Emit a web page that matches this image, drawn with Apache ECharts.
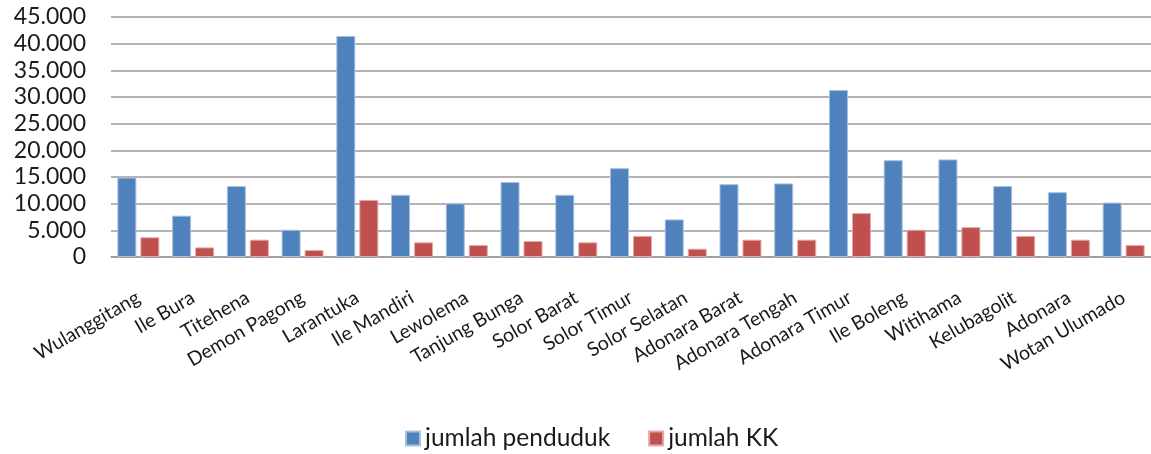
<!DOCTYPE html>
<html>
<head>
<meta charset="utf-8">
<script src="https://cdn.jsdelivr.net/npm/echarts@6/dist/echarts.min.js"></script>
<style>
html,body{margin:0;padding:0;background:#fff;}
#chart{width:1151px;height:454px;}
</style>
</head>
<body>
<div id="chart"></div>
<script>
const categories = ["Wulanggitang","Ile Bura","Titehena","Demon Pagong","Larantuka","Ile Mandiri","Lewolema","Tanjung Bunga","Solor Barat","Solor Timur","Solor Selatan","Adonara Barat","Adonara Tengah","Adonara Timur","Ile Boleng","Witihama","Kelubagolit","Adonara","Wotan Ulumado"];
const jumlahPenduduk = [14900,7750,13300,5100,41450,11650,10050,14050,11650,16650,7050,13650,13800,31300,18150,18300,13300,12150,10200];
const jumlahKK = [3700,1800,3250,1300,10700,2750,2250,3000,2750,3950,1550,3250,3250,8250,5100,5600,3950,3250,2250];
const seriesNames = ["jumlah penduduk","jumlah KK"];
const yTicks = {min:0, max:45000, interval:5000};

const FONT = 'Lato';
const chart = echarts.init(document.getElementById('chart'));
function fmt(v){ return String(v).replace(/\B(?=(\d{3})+(?!\d))/g, '.'); }
chart.setOption({
  animation:false,
  textStyle:{fontFamily:FONT},
  grid:{left:111, right:-6, top:17, bottom:197, containLabel:false},
  legend:{
    left:400, top:421, itemWidth:14, itemHeight:14, itemGap:38, icon:'rect',
    textStyle:{fontFamily:FONT, fontSize:24.5, color:'#1a1a1a'},
    data:seriesNames
  },
  xAxis:{
    type:'category', data:categories,
    axisLine:{lineStyle:{color:'#9a9a9a', width:1.5}},
    axisTick:{show:false},
    axisLabel:{rotate:30, interval:0, margin:39, fontFamily:FONT, fontSize:19.5, color:'#1a1a1a'}
  },
  yAxis:{
    type:'value', min:yTicks.min, max:yTicks.max, interval:yTicks.interval,
    axisLine:{show:false}, axisTick:{show:false},
    splitLine:{lineStyle:{color:'#9a9a9a', width:1.5}},
    axisLabel:{margin:25, fontFamily:FONT, fontSize:23, color:'#1a1a1a', formatter:fmt}
  },
  series:[
    {name:seriesNames[0], type:'bar', data:jumlahPenduduk, barWidth:19, barGap:'21%',
     itemStyle:{color:'#4f81bd', borderColor:'#a9c1e0', borderWidth:1}},
    {name:seriesNames[1], type:'bar', data:jumlahKK, barWidth:19,
     itemStyle:{color:'#c0504d', borderColor:'#e3a9a7', borderWidth:1}}
  ]
});
</script>
</body>
</html>
